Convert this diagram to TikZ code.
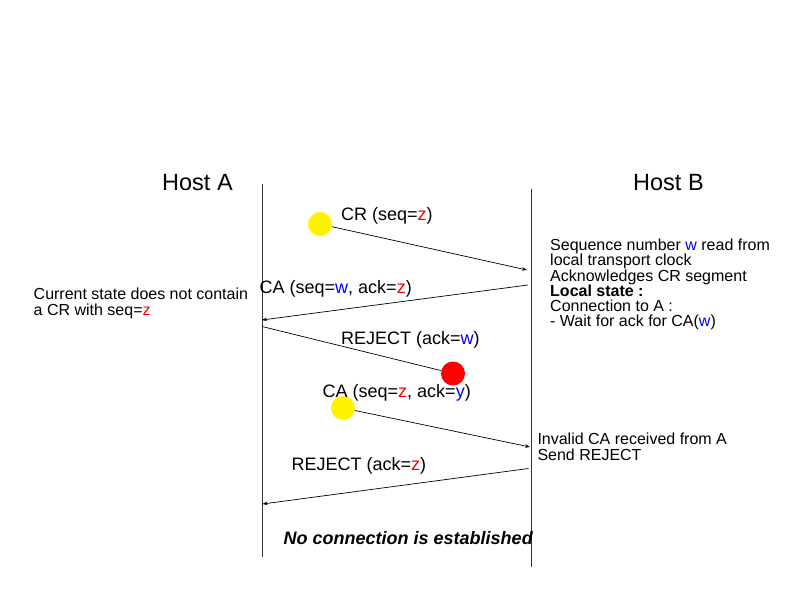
\documentclass[tikz,border=0pt]{standalone}
\usepackage{fontspec}
\setmainfont{Liberation Sans}
\usetikzlibrary{arrows.meta}
\begin{document}
\begin{tikzpicture}[x=1pt,y=-1pt,
  lbl/.style={anchor=base west,inner sep=0pt,font=\fontsize{18}{18}\selectfont},
  note/.style={anchor=base west,inner sep=0pt,font=\fontsize{16}{15.2}\selectfont,align=left},
  host/.style={anchor=base west,inner sep=0pt,font=\fontsize{23.5}{24}\selectfont},
  life/.style={line width=0.9pt,draw=black!80},
  msg/.style={line width=0.7pt,-{Stealth[length=5pt,width=3.5pt]}},
  plain/.style={line width=0.7pt},
  dot/.style={circle,inner sep=0pt,minimum size=24pt},
]
\useasboundingbox (0,0) rectangle (793,595);
\fill[white] (0,0) rectangle (793,595);

% hosts
\node[host] (ha) at (162,190) {Host A};
\node[host] (hb) at (633,190) {Host B};

% lifelines
\coordinate (atop) at (262,184);
\coordinate (abot) at (262,557);
\coordinate (btop) at (531,189);
\coordinate (bbot) at (531,567);
\draw[life] (atop) -- (abot);
\draw[life] (btop) -- (bbot);

% endpoints
\coordinate (b1) at (527,270);
\coordinate (b2) at (528,285);
\coordinate (a2) at (262,320);
\coordinate (a3) at (262,326.5);
\coordinate (b4) at (530,447);
\coordinate (b5) at (528.5,468.5);
\coordinate (a5) at (262.5,504);

% circles
\node[dot,fill=yellow] (y1) at (320,224) {};
\node[dot,fill=red] (r1) at (453,373.5) {};
\node[dot,fill=yellow] (y2) at (343,408) {};

% messages
\draw[msg] (y1) -- (b1);
\draw[msg] (b2) -- (a2);
\draw[plain] (a3) -- (r1);
\draw[msg] (y2) -- (b4);
\draw[msg] (b5) -- (a5);

% labels
\node[lbl] (l1) at (341,220) {CR (seq=\textcolor{red}{z})};
\node[lbl] (l2) at (259.5,293.3) {CA (seq=\textcolor{blue}{w}, ack=\textcolor{red}{z})};
\node[lbl] (l3) at (341,344.5) {REJECT (ack=\textcolor{blue}{w})};
\node[lbl] (l4) at (322.5,397.3) {CA (seq=\textcolor{red}{z}, ack=\textcolor{blue}{y})};
\node[lbl] (l5) at (291.5,470.7) {REJECT (ack=\textcolor{red}{z})};
\node[lbl,font=\fontsize{18}{18}\selectfont\bfseries\itshape] (l6) at (283.5,544) {No connection is established};

% notes (base anchor = baseline of last line)
\node[note] (nA) at (33.5,315) {Current state does not contain\\a CR with seq=\textcolor{red}{z}};
\node[note] (nB) at (550,326.7) {Sequence number \textcolor{blue}{w} read from\\local transport clock\\Acknowledges CR segment\\\textbf{Local state :}\\Connection to A :\\- Wait for ack for CA(\textcolor{blue}{w})};
\node[note] (nB2) at (537.3,460) {Invalid CA received from A\\Send REJECT};
\end{tikzpicture}
\end{document}
